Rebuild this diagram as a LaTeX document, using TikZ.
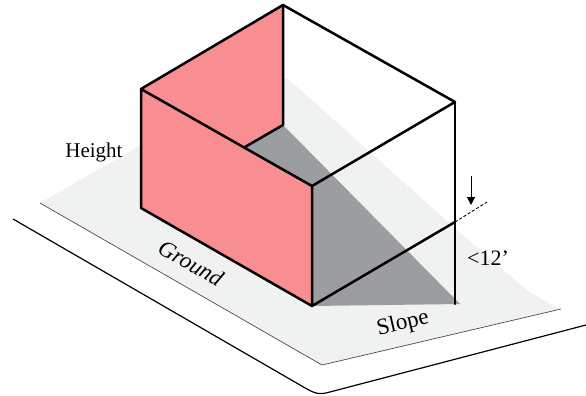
\documentclass[tikz,border=0pt]{standalone}
\usepackage{fontspec}
\setmainfont{Liberation Serif}
\usetikzlibrary{arrows.meta}
\definecolor{groundgray}{HTML}{F0F1F1}
\definecolor{shadowgray}{HTML}{9B9DA0}
\definecolor{wallpink}{HTML}{F88D92}
\tikzset{
  wall/.style={line width=2.5pt,black,line cap=round,line join=round},
  edgeline/.style={line width=0.7pt,black!70},
  outline/.style={line width=1.2pt,black},
  lbl/.style={inner sep=0pt,font=\fontsize{21pt}{24pt}\selectfont},
}
\begin{document}
\begin{tikzpicture}[x=1pt,y=-1pt]
\useasboundingbox (0,0) rectangle (586,396);
\fill[white] (0,0) rectangle (586,396);
\coordinate (gl) at (40,203);
\coordinate (gb) at (322,365);
\coordinate (gr) at (561,309);
\coordinate (apex) at (283,5);
\coordinate (tl) at (141,89);
\coordinate (tr) at (455,102);
\coordinate (tf) at (312,186);
\coordinate (bf) at (312,306);
\coordinate (bl) at (141,208);
\coordinate (br) at (455,304);
\coordinate (ba) at (283,125);
\coordinate (mid) at (245,147);
\coordinate (rm) at (455,222);
\coordinate (dashend) at (487,202);
\coordinate (arrowtop) at (471,176);
\coordinate (arrowtip) at (471,205);
% ground
\fill[groundgray] (gl) -- (138,147) -- (287,78) -- (457,230) -- (523,287)
  .. controls (535,296) and (548,303) .. (gr) -- (gb) -- cycle;
\draw[edgeline] (gl) -- (gb) -- (gr);
% outer plate edge
\draw[outline] (13,219) -- (300,385) .. controls (312,392) and (317,395) .. (326,393) -- (586,325);
% shadow
\fill[shadowgray] (ba) -- (460,304) -- (bf) -- (tf) -- (mid) -- cycle;
% walls
\fill[wallpink] (apex) -- (tl) -- (mid) -- (ba) -- cycle;
\fill[wallpink] (tl) -- (tf) -- (bf) -- (bl) -- cycle;
\draw[wall] (apex) -- (tl) -- (bl) -- (bf) -- (tf) -- (tl);
\draw[wall] (apex) -- (tr) -- (tf);
\draw[wall] (apex) -- (ba) -- (mid);
\draw[wall] (tr) -- (br);
\draw[wall] (bf) -- (rm);
\draw[line width=0.9pt,dash pattern=on 3pt off 2pt] (rm) -- (dashend);
\draw[line width=1pt,-{Triangle[length=8pt,width=8pt]}] (arrowtop) -- (arrowtip);
% labels
\node[lbl] (height) at (94,152) {Height};
\node[lbl,rotate=-30,font=\fontsize{23pt}{24pt}\selectfont\itshape] (ground) at (191,263) {Ground};
\node[lbl,rotate=13,font=\fontsize{23pt}{24pt}\selectfont] (slope) at (403,324) {Slope};
\node[lbl,font=\fontsize{22pt}{24pt}\selectfont] (twelve) at (488,258) {<12’};
\end{tikzpicture}
\end{document}
